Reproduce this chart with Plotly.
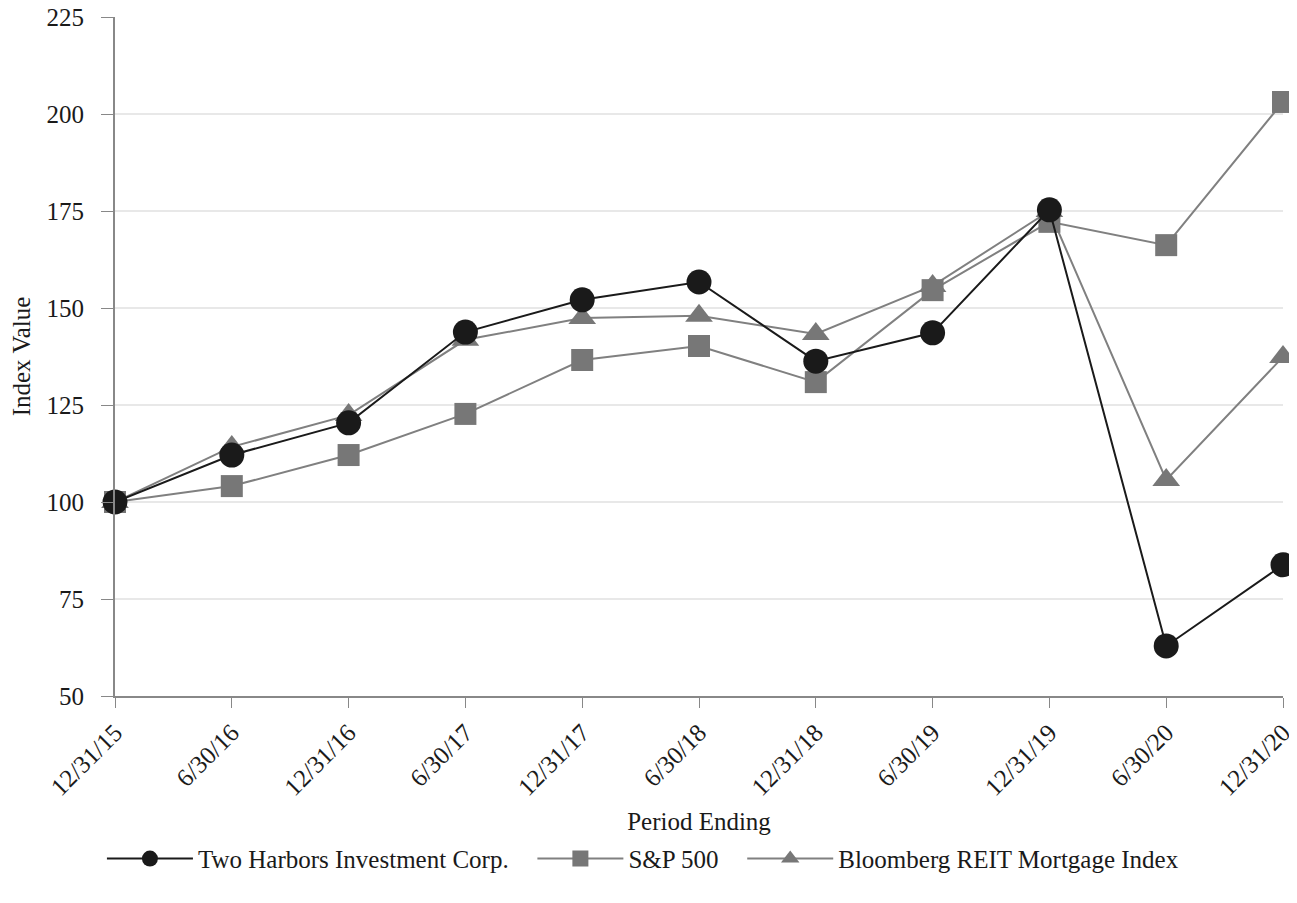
import plotly.graph_objects as go

periods = ["12/31/15", "6/30/16", "12/31/16", "6/30/17", "12/31/17", "6/30/18",
           "12/31/18", "6/30/19", "12/31/19", "6/30/20", "12/31/20"]
two_harbors = [100.0, 112.1, 120.4, 143.8, 152.1, 156.7, 136.3, 143.6, 175.3, 62.9, 83.8]
sp500 = [100.0, 104.1, 112.1, 122.7, 136.6, 140.2, 130.9, 154.6, 172.2, 166.2, 203.1]
bloomberg = [100.0, 114.2, 122.4, 141.8, 147.4, 148.0, 143.3, 155.7, 175.0, 105.7, 137.4]
y_ticks = [50, 75, 100, 125, 150, 175, 200, 225]

FONT = "Liberation Serif"
FS = 25
GAP = "\u00a0\u00a0\u00a0"
fig = go.Figure()
fig.add_trace(go.Scatter(x=periods, y=bloomberg, name="Bloomberg REIT Mortgage Index",
                         mode="lines+markers", line=dict(color="#808080", width=2),
                         marker=dict(symbol="triangle-up", size=24, color="#777777"),
                         cliponaxis=False, legendrank=3))
fig.add_trace(go.Scatter(x=periods, y=sp500, name="S&P 500" + GAP,
                         mode="lines+markers", line=dict(color="#808080", width=2),
                         marker=dict(symbol="square", size=22, color="#777777"),
                         cliponaxis=False, legendrank=2))
fig.add_trace(go.Scatter(x=periods, y=two_harbors, name="Two Harbors Investment Corp." + GAP,
                         mode="lines+markers", line=dict(color="#1a1a1a", width=2),
                         marker=dict(symbol="circle", size=25, color="#1a1a1a"),
                         cliponaxis=False, legendrank=1))

fig.update_layout(
    width=1289, height=895,
    margin=dict(l=107, r=14, t=9, b=207, autoexpand=False),
    paper_bgcolor="white", plot_bgcolor="white",
    font=dict(family=FONT, size=FS, color="#1a1a1a"),
    showlegend=True,
    legend=dict(orientation="h", x=0.452, xanchor="center", y=-0.206, yanchor="top",
                font=dict(family=FONT, size=FS), traceorder="normal",
                itemwidth=86),
)
fig.update_xaxes(
    type="category", range=[0, 10], tickangle=-45, automargin=False,
    showline=True, linecolor="#888888", linewidth=2,
    ticks="outside", ticklen=10, tickcolor="#888888",
    showgrid=False, zeroline=False, ticklabeloverflow="allow",
    title=dict(text="Period Ending", font=dict(family=FONT, size=FS), standoff=13),
    tickfont=dict(family=FONT, size=FS),
)
fig.update_yaxes(
    range=[50, 225], tickvals=y_ticks, automargin=False,
    showline=True, linecolor="#888888", linewidth=2,
    ticks="outside", ticklen=12, tickcolor="#888888",
    showgrid=True, gridcolor="#e8e8e8", gridwidth=1.5, zeroline=False,
    ticklabelstandoff=12, ticklabeloverflow="allow",
    title=dict(text="Index Value", font=dict(family=FONT, size=FS), standoff=16),
    tickfont=dict(family=FONT, size=FS),
)
fig.write_html("out.html")
